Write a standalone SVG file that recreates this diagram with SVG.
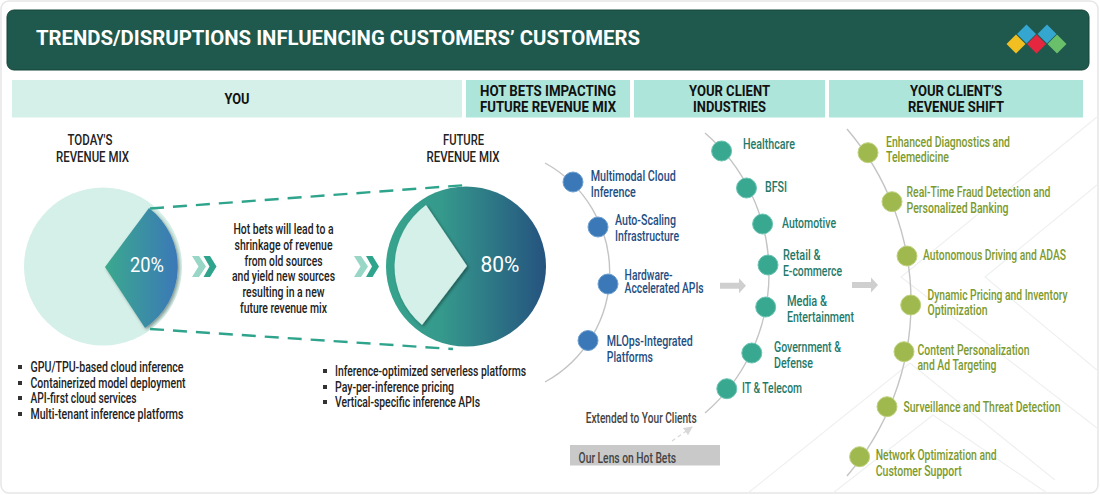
<svg xmlns="http://www.w3.org/2000/svg" width="1100" height="495" viewBox="0 0 1100 495">
<style>
text{font-family:"Roboto","Liberation Sans",sans-serif;font-size:14.500px;}
.h{font-weight:700;font-size:15px;fill:#111;text-anchor:middle}
.k{fill:#222;font-weight:500;text-anchor:middle}
.b{fill:#222;font-weight:500}
.bl{fill:#1f4e82;font-weight:500}
.tl{fill:#1f7a6a;font-weight:500}
.gl{fill:#7c9a2e;font-weight:500}
.arc{fill:none;stroke:#c4c4c4;stroke-width:1.4}
.dash{fill:none;stroke:#2fa48c;stroke-width:2.4;stroke-dasharray:14 9}
.nb{fill:#3a78b8;stroke:#6fa0cf;stroke-width:1}
.nt{fill:#38a891;stroke:#6cc4b2;stroke-width:1}
.ng{fill:#a0b94e;stroke:#bfd27f;stroke-width:1}
.sq{fill:#333}
.bg{fill:none;stroke:#eef1f0;stroke-width:1.2}
</style>
<defs>
<linearGradient id="g1" x1="0" x2="1" y1="0" y2="0"><stop offset="0" stop-color="#3aa98d"/><stop offset="1" stop-color="#3a78b8"/></linearGradient>
<linearGradient id="g2" x1="0" x2="1" y1="0" y2="0"><stop offset="0" stop-color="#37a48e"/><stop offset="0.35" stop-color="#35998c"/><stop offset="1" stop-color="#25537f"/></linearGradient>
<filter id="sh" x="-20%" y="-20%" width="150%" height="150%"><feDropShadow dx="1.500" dy="1.500" stdDeviation="1.500" flood-color="#000" flood-opacity="0.4"/></filter>
<marker id="ah" markerUnits="userSpaceOnUse" markerWidth="10" markerHeight="10" refX="8" refY="4.500" orient="auto"><path d="M0 0L9 4.500L0 9Z" fill="#d8d8d8"/></marker>
</defs>
<rect x="1" y="1" width="1097" height="492" rx="8" fill="#fff" stroke="#e6e6e6" stroke-width="1.500"/>
<g id="bg-lines">
<path class="bg" d="M1097 117L901 277L1097 428M1097 185L985 277L1097 370M748 493L910 363L1055 480M833 493L933 415L1047 493"/>
</g>
<g id="header">
<rect x="7" y="10" width="1082" height="60" rx="7" fill="#1f584c" stroke="#164539" stroke-width="1"/>
<text x="36" y="45" style="font-size:20.500px;font-weight:700" fill="#fff" textLength="604" lengthAdjust="spacingAndGlyphs">TRENDS/DISRUPTIONS INFLUENCING CUSTOMERS’ CUSTOMERS</text>
<g id="logo">
<path d="M1026.500 24.500l9.500 9.500l-9.500 9.500l-9.500-9.500Z" fill="#35a6cf"/>
<path d="M1047 24.500l9.500 9.500l-9.500 9.500l-9.500-9.500Z" fill="#35a6cf"/>
<path d="M1016 34.500l9.500 9.500l-9.500 9.500l-9.500-9.500Z" fill="#f2bf22"/>
<path d="M1036.500 34.500l9.500 9.500l-9.500 9.500l-9.500-9.500Z" fill="#e4273f"/>
<path d="M1057 34.500l9.500 9.500l-9.500 9.500l-9.500-9.500Z" fill="#6abf6a"/>
</g>
</g>
<g id="col-you"><rect x="12" y="80" width="450" height="37.500" fill="#d5f0e8"/><text class="h" x="237" y="104" textLength="25" lengthAdjust="spacingAndGlyphs">YOU</text></g>
<g id="col-hot"><rect x="466" y="80" width="164" height="37.500" fill="#ade5da"/><text class="h" x="548" y="96" textLength="136" lengthAdjust="spacingAndGlyphs">HOT BETS IMPACTING</text><text class="h" x="548" y="112" textLength="136" lengthAdjust="spacingAndGlyphs">FUTURE REVENUE MIX</text></g>
<g id="col-ind"><rect x="634" y="80" width="191" height="37.500" fill="#ade5da"/><text class="h" x="729.500" y="96" textLength="81" lengthAdjust="spacingAndGlyphs">YOUR CLIENT</text><text class="h" x="729.500" y="112" textLength="73" lengthAdjust="spacingAndGlyphs">INDUSTRIES</text></g>
<g id="col-rev"><rect x="829" y="80" width="254" height="37.500" fill="#ade5da"/><text class="h" x="956" y="96" textLength="92" lengthAdjust="spacingAndGlyphs">YOUR CLIENT’S</text><text class="h" x="956" y="112" textLength="96" lengthAdjust="spacingAndGlyphs">REVENUE SHIFT</text></g>

<g id="today">
<text class="k" x="90" y="145" textLength="45" lengthAdjust="spacingAndGlyphs">TODAY'S</text>
<text class="k" x="92.500" y="162" textLength="73" lengthAdjust="spacingAndGlyphs">REVENUE MIX</text>
<circle cx="103" cy="266.500" r="79" fill="#d5f0e8"/>
<path d="M105 267L149 208A74 74 0 0 1 145 328Z" fill="url(#g1)" filter="url(#sh)"/>
<text x="147" y="272" text-anchor="middle" fill="#fff" style="font-size:20px" textLength="34" lengthAdjust="spacingAndGlyphs">20%</text>
</g>
<g id="future">
<text class="k" x="463.500" y="145" textLength="41" lengthAdjust="spacingAndGlyphs">FUTURE</text>
<text class="k" x="463" y="162" textLength="73" lengthAdjust="spacingAndGlyphs">REVENUE MIX</text>
<circle cx="466" cy="266.500" r="80" fill="url(#g2)"/>
<path d="M467 266L426 205A76 76 0 0 0 422 325Z" fill="#d5f0e8" filter="url(#sh)"/>
<text x="500" y="272" text-anchor="middle" fill="#fff" style="font-size:22.500px" textLength="39" lengthAdjust="spacingAndGlyphs">80%</text>
</g>
<g id="connectors">
<path class="dash" d="M150 208.500L467 185"/>
<path class="dash" d="M150 329L453 349"/>
<path class="arc" d="M545 163A125 125 0 0 1 545 382"/>
<path class="arc" d="M705 133A185 185 0 0 1 705 413"/>
<path class="arc" d="M847 129A267 267 0 0 1 847 476"/>
<path d="M720 282.700h19v-4.500l7 7.500l-7 7.500v-4.500h-19Z" fill="#cfcfcf"/>
<path d="M852 282h19v-4.500l7 7.500l-7 7.500v-4.500h-19Z" fill="#cfcfcf"/>
<path d="M672 441L692 427" fill="none" stroke="#d8d8d8" stroke-width="1.200" stroke-dasharray="4 3" marker-end="url(#ah)"/>
</g>
<g id="chevrons">
<path d="M192 256h7l7 10.500l-7 10.500h-7l6.500-10.500Z" fill="#98d6c6"/>
<path d="M203.500 256h6.500l6.500 10.500l-6.500 10.500h-6.500l6-10.500Z" fill="#2fa48c"/>
<path d="M354 256h7l7 10.500l-7 10.500h-7l6.500-10.500Z" fill="#98d6c6"/>
<path d="M366 256h6.500l6.500 10.500l-6.500 10.500h-6.500l6-10.500Z" fill="#2fa48c"/>
</g>
<g id="explain">
<text class="k" x="283.500" y="234" textLength="100" lengthAdjust="spacingAndGlyphs">Hot bets will lead to a</text>
<text class="k" x="283.500" y="249.500" textLength="98" lengthAdjust="spacingAndGlyphs">shrinkage of revenue</text>
<text class="k" x="283.500" y="265.500" textLength="78" lengthAdjust="spacingAndGlyphs">from old sources</text>
<text class="k" x="283.500" y="281" textLength="103" lengthAdjust="spacingAndGlyphs">and yield new sources</text>
<text class="k" x="283.500" y="296.500" textLength="82" lengthAdjust="spacingAndGlyphs">resulting in a new</text>
<text class="k" x="283.500" y="312.500" textLength="87" lengthAdjust="spacingAndGlyphs">future revenue mix</text>
</g>
<g id="today-list">
<rect class="sq" x="18" y="365" width="4" height="4"/><text class="b" x="30.500" y="372" textLength="153" lengthAdjust="spacingAndGlyphs">GPU/TPU-based cloud inference</text>
<rect class="sq" x="18" y="381" width="4" height="4"/><text class="b" x="30.500" y="387.500" textLength="155" lengthAdjust="spacingAndGlyphs">Containerized model deployment</text>
<rect class="sq" x="18" y="396" width="4" height="4"/><text class="b" x="30.500" y="403" textLength="106" lengthAdjust="spacingAndGlyphs">API-first cloud services</text>
<rect class="sq" x="18" y="412" width="4" height="4"/><text class="b" x="30.500" y="418.500" textLength="153" lengthAdjust="spacingAndGlyphs">Multi-tenant inference platforms</text>
</g>
<g id="future-list">
<rect class="sq" x="323" y="369" width="4" height="4"/><text class="b" x="335" y="376" textLength="191" lengthAdjust="spacingAndGlyphs">Inference-optimized serverless platforms</text>
<rect class="sq" x="323" y="385" width="4" height="4"/><text class="b" x="335" y="391.500" textLength="119" lengthAdjust="spacingAndGlyphs">Pay-per-inference pricing</text>
<rect class="sq" x="323" y="400" width="4" height="4"/><text class="b" x="335" y="407" textLength="145" lengthAdjust="spacingAndGlyphs">Vertical-specific inference APIs</text>
</g>
<g id="hb1"><circle class="nb" cx="573" cy="182" r="10"/><text class="bl" x="590.700" y="181" textLength="85" lengthAdjust="spacingAndGlyphs">Multimodal Cloud</text><text class="bl" x="590.700" y="197" textLength="45" lengthAdjust="spacingAndGlyphs">Inference</text></g>
<g id="hb2"><circle class="nb" cx="598" cy="227" r="10"/><text class="bl" x="615" y="225" textLength="61" lengthAdjust="spacingAndGlyphs">Auto-Scaling</text><text class="bl" x="615" y="240.500" textLength="64" lengthAdjust="spacingAndGlyphs">Infrastructure</text></g>
<g id="hb3"><circle class="nb" cx="608" cy="284" r="10"/><text class="bl" x="624.600" y="280" textLength="48" lengthAdjust="spacingAndGlyphs">Hardware-</text><text class="bl" x="624.600" y="293" textLength="79" lengthAdjust="spacingAndGlyphs">Accelerated APIs</text></g>
<g id="hb4"><circle class="nb" cx="588" cy="340.500" r="10"/><text class="bl" x="606.800" y="345.500" textLength="86" lengthAdjust="spacingAndGlyphs">MLOps-Integrated</text><text class="bl" x="606.800" y="361.500" textLength="46" lengthAdjust="spacingAndGlyphs">Platforms</text></g>
<g id="ind1"><circle class="nt" cx="721.600" cy="151" r="10"/><text class="tl" x="743" y="148.500" textLength="52" lengthAdjust="spacingAndGlyphs">Healthcare</text></g>
<g id="ind2"><circle class="nt" cx="746.500" cy="188" r="10"/><text class="tl" x="765" y="192" textLength="22" lengthAdjust="spacingAndGlyphs">BFSI</text></g>
<g id="ind3"><circle class="nt" cx="762.600" cy="224" r="10"/><text class="tl" x="782" y="227.500" textLength="54" lengthAdjust="spacingAndGlyphs">Automotive</text></g>
<g id="ind4"><circle class="nt" cx="768" cy="265" r="10"/><text class="tl" x="783" y="260" textLength="37.500" lengthAdjust="spacingAndGlyphs">Retail &amp;</text><text class="tl" x="783" y="276" textLength="59" lengthAdjust="spacingAndGlyphs">E-commerce</text></g>
<g id="ind5"><circle class="nt" cx="765.700" cy="307" r="10"/><text class="tl" x="787" y="306" textLength="40" lengthAdjust="spacingAndGlyphs">Media &amp;</text><text class="tl" x="787" y="321.500" textLength="67" lengthAdjust="spacingAndGlyphs">Entertainment</text></g>
<g id="ind6"><circle class="nt" cx="751.800" cy="353" r="10"/><text class="tl" x="774" y="351.500" textLength="67" lengthAdjust="spacingAndGlyphs">Government &amp;</text><text class="tl" x="774" y="367.500" textLength="39" lengthAdjust="spacingAndGlyphs">Defense</text></g>
<g id="ind7"><circle class="nt" cx="726.800" cy="388.700" r="10"/><text class="tl" x="742" y="393" textLength="60" lengthAdjust="spacingAndGlyphs">IT &amp; Telecom</text></g>
<g id="rev1"><circle class="ng" cx="868" cy="152.700" r="10"/><text class="gl" x="886" y="146.500" textLength="124" lengthAdjust="spacingAndGlyphs">Enhanced Diagnostics and</text><text class="gl" x="886" y="162" textLength="63" lengthAdjust="spacingAndGlyphs">Telemedicine</text></g>
<g id="rev2"><circle class="ng" cx="892" cy="201.700" r="10"/><text class="gl" x="906.500" y="197" textLength="144" lengthAdjust="spacingAndGlyphs">Real-Time Fraud Detection and</text><text class="gl" x="906.500" y="212.500" textLength="102" lengthAdjust="spacingAndGlyphs">Personalized Banking</text></g>
<g id="rev3"><circle class="ng" cx="907" cy="256" r="10"/><text class="gl" x="923" y="259.500" textLength="143" lengthAdjust="spacingAndGlyphs">Autonomous Driving and ADAS</text></g>
<g id="rev4"><circle class="ng" cx="910.700" cy="305" r="10"/><text class="gl" x="927.500" y="299.500" textLength="140" lengthAdjust="spacingAndGlyphs">Dynamic Pricing and Inventory</text><text class="gl" x="927.500" y="315" textLength="60" lengthAdjust="spacingAndGlyphs">Optimization</text></g>
<g id="rev5"><circle class="ng" cx="904" cy="351.700" r="10"/><text class="gl" x="917.500" y="354.500" textLength="112" lengthAdjust="spacingAndGlyphs">Content Personalization</text><text class="gl" x="917.500" y="370" textLength="79" lengthAdjust="spacingAndGlyphs">and Ad Targeting</text></g>
<g id="rev6"><circle class="ng" cx="887" cy="406.700" r="10"/><text class="gl" x="903.500" y="412" textLength="157" lengthAdjust="spacingAndGlyphs">Surveillance and Threat Detection</text></g>
<g id="rev7"><circle class="ng" cx="859.600" cy="456.700" r="10"/><text class="gl" x="875.700" y="460" textLength="121" lengthAdjust="spacingAndGlyphs">Network Optimization and</text><text class="gl" x="875.700" y="475.500" textLength="86" lengthAdjust="spacingAndGlyphs">Customer Support</text></g>
<g id="lens">
<text x="585.700" y="422.700" fill="#444" style="font-weight:500" textLength="111" lengthAdjust="spacingAndGlyphs">Extended to Your Clients</text>
<rect x="570" y="445" width="150" height="20.500" fill="#c9c9c9"/>
<text x="578.600" y="463" fill="#444" style="font-weight:500" textLength="97.500" lengthAdjust="spacingAndGlyphs">Our Lens on Hot Bets</text>
</g>
</svg>
